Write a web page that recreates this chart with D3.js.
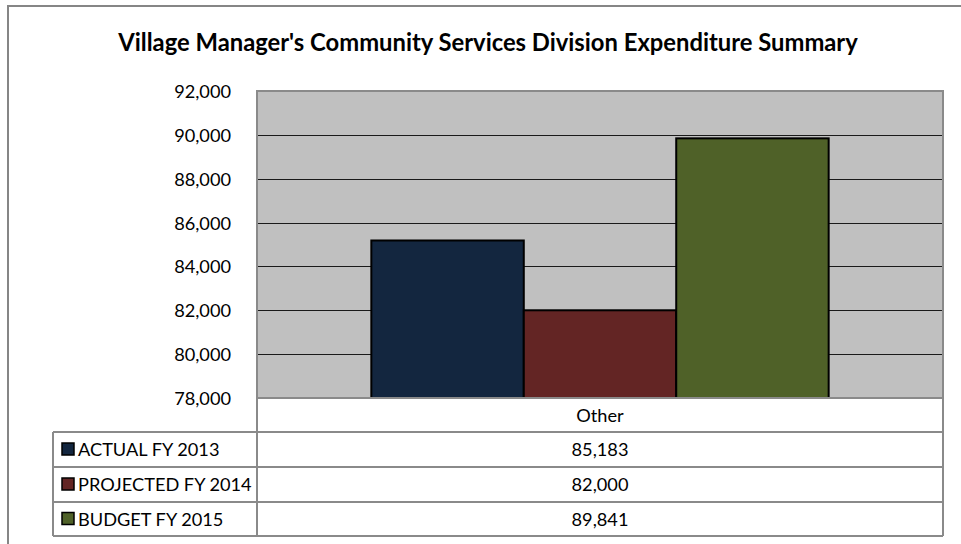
<!DOCTYPE html>
<html>
<head>
<meta charset="utf-8">
<script src="https://cdn.jsdelivr.net/npm/d3@7"></script>
<style>
  html, body { margin: 0; padding: 0; background: #fff; }
  svg { display: block; }
  text { font-family: Lato, "Open Sans", sans-serif; fill: #000; }
</style>
</head>
<body>
<svg id="chart" width="961" height="544"></svg>
<script>
// Expenditure data
const title = "Village Manager's Community Services Division Expenditure Summary";
const categories = ["Other"];
const seriesNames = ["ACTUAL FY 2013", "PROJECTED FY 2014", "BUDGET FY 2015"];
const seriesValues = [85183, 82000, 89841];
const seriesColors = ["#13263f", "#632524", "#4f6128"];
const yTicks = [78000, 80000, 82000, 84000, 86000, 88000, 90000, 92000];

const svg = d3.select("#chart");
const fmt = d3.format(",");
const labelSize = 18.2;

// Layout
const plot = { left: 257, right: 943, top: 91, bottom: 398 };
const tableLeft = 53;
const rowEdges = [398, 432, 467, 502, 536];

// Outer frame
svg.append("rect")
  .attr("x", 8).attr("y", 6).attr("width", 970).attr("height", 560)
  .attr("fill", "#fff").attr("stroke", "#868686").attr("stroke-width", 2);

// Title, sized to span the chart's heading width
const titleText = svg.append("text")
  .attr("x", 488).attr("y", 51)
  .attr("text-anchor", "middle")
  .attr("font-weight", 700)
  .attr("font-size", 21)
  .text(title);
const tw = titleText.node().getComputedTextLength();
titleText.attr("font-size", Math.min(26, 21 * 740 / tw));

// Scales
const y = d3.scaleLinear().domain([78000, 92000]).range([plot.bottom, plot.top]);
const x0 = d3.scaleBand().domain(categories).range([plot.left, plot.right])
  .paddingInner(0).paddingOuter(0.25);
const x1 = d3.scaleBand().domain(seriesNames).range([0, x0.bandwidth()]).padding(0);

// Plot background
svg.append("rect")
  .attr("x", plot.left).attr("y", plot.top)
  .attr("width", plot.right - plot.left).attr("height", plot.bottom - plot.top)
  .attr("fill", "#c0c0c0");

// Gridlines
svg.append("g").selectAll("line")
  .data(yTicks.filter(t => t > 78000 && t < 92000))
  .join("line")
  .attr("x1", plot.left).attr("x2", plot.right)
  .attr("y1", d => Math.round(y(d)) + 0.5).attr("y2", d => Math.round(y(d)) + 0.5)
  .attr("stroke", "#1a1a1a").attr("stroke-width", 1);

// Bars
svg.append("g").selectAll("rect")
  .data(seriesNames.map((s, i) => ({ s, v: seriesValues[i], c: seriesColors[i] })))
  .join("rect")
  .attr("x", d => x0(categories[0]) + x1(d.s))
  .attr("y", d => y(d.v))
  .attr("width", x1.bandwidth())
  .attr("height", d => y(78000) - y(d.v))
  .attr("fill", d => d.c)
  .attr("stroke", "#000").attr("stroke-width", 2);

// Plot border
svg.append("rect")
  .attr("x", plot.left).attr("y", plot.top)
  .attr("width", plot.right - plot.left).attr("height", plot.bottom - plot.top)
  .attr("fill", "none").attr("stroke", "#8a8a8a").attr("stroke-width", 2);

// Y axis labels
const yAxis = d3.axisLeft(y).tickValues(yTicks).tickFormat(fmt).tickSize(0).tickPadding(0);
const gy = svg.append("g").attr("transform", `translate(231,0)`).call(yAxis);
gy.select(".domain").remove();
gy.selectAll("text")
  .attr("font-family", "Lato, sans-serif").attr("font-size", labelSize).attr("fill", "#000")
  .attr("dy", "0.36em");

// Data table grid
const grid = svg.append("g").attr("stroke", "#8a8a8a").attr("stroke-width", 2);
rowEdges.slice(1).forEach(r => {
  grid.append("line").attr("x1", tableLeft).attr("x2", plot.right).attr("y1", r).attr("y2", r);
});
grid.append("line").attr("x1", tableLeft).attr("x2", tableLeft).attr("y1", rowEdges[1]).attr("y2", rowEdges[4]);
grid.append("line").attr("x1", plot.left).attr("x2", plot.left).attr("y1", plot.top).attr("y2", rowEdges[4]);
grid.append("line").attr("x1", plot.right).attr("x2", plot.right).attr("y1", plot.top).attr("y2", rowEdges[4]);

const rowMid = i => (rowEdges[i] + rowEdges[i + 1]) / 2;
const colMid = x0(categories[0]) + x0.bandwidth() / 2;

// Category row
svg.append("text")
  .attr("x", colMid).attr("y", rowMid(0)).attr("dy", "0.36em")
  .attr("text-anchor", "middle").attr("font-size", labelSize)
  .text(categories[0]);

// Series rows: legend key, name and value
seriesNames.forEach((s, i) => {
  const cy = rowMid(i + 1);
  svg.append("rect")
    .attr("x", 62).attr("y", cy - 6.5).attr("width", 12).attr("height", 12)
    .attr("fill", seriesColors[i]).attr("stroke", "#000").attr("stroke-width", 1.5);
  svg.append("text")
    .attr("x", 78).attr("y", cy).attr("dy", "0.36em")
    .attr("font-size", labelSize)
    .text(s);
  svg.append("text")
    .attr("x", colMid).attr("y", cy).attr("dy", "0.36em")
    .attr("text-anchor", "middle").attr("font-size", labelSize)
    .text(fmt(seriesValues[i]));
});
</script>
</body>
</html>
